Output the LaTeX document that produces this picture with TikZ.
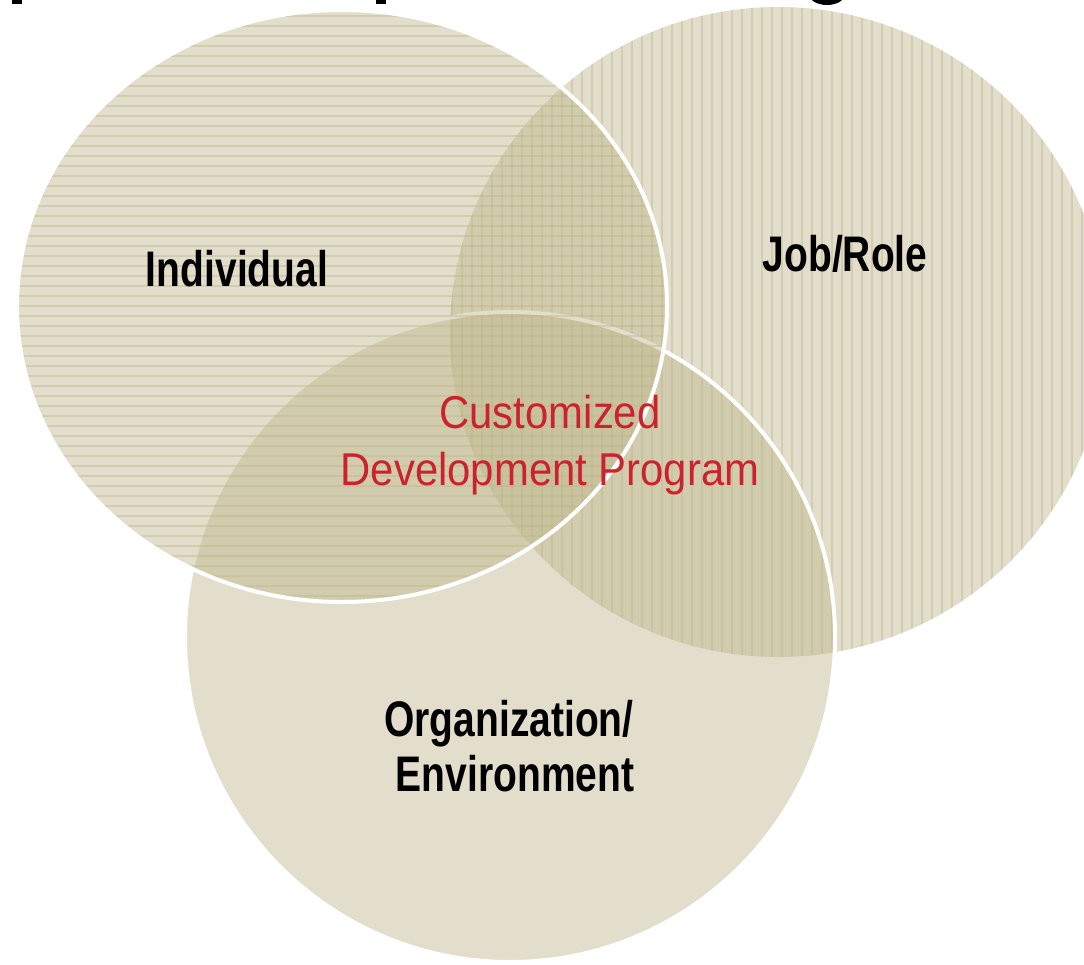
\documentclass[tikz,border=0pt]{standalone}
\usepackage{fontspec}
\setmainfont{Liberation Sans}
\usepackage{graphicx}
\definecolor{basefill}{RGB}{190,182,140}
\definecolor{linec}{RGB}{188,180,132}
\definecolor{redtxt}{RGB}{204,34,45}
\tikzset{
  venn/.style={fill=basefill, fill opacity=0.45},
  rim/.style={draw=white, line width=3pt},
  hatch/.style={draw=linec, line width=0.8pt, opacity=0.4},
  blacklabel/.style={text=black, inner sep=0pt, anchor=base,
    font=\fontsize{37.5}{45}\selectfont\bfseries},
  redlabel/.style={text=redtxt, inner sep=0pt, anchor=base,
    font=\fontsize{34.5}{42}\selectfont}
}
\begin{document}
\begin{tikzpicture}[x=0.75pt,y=-0.75pt]
\useasboundingbox (0,0) rectangle (1084,964);
\clip (0,0) rectangle (1084,964);
\coordinate (job) at (778,332);
\coordinate (org) at (510,637);
\coordinate (ind) at (342,306);

% title fragments (cut off at the top edge)
\fill[black] (12,-2) rectangle (22,4);
\fill[black] (376,-2) rectangle (386,4);
\fill[black] (827,-6) ellipse [x radius=18, y radius=11];

% Job/Role circle
\fill[venn] (job) ellipse [x radius=328, y radius=325];
\begin{scope}
  \clip (job) ellipse [x radius=328, y radius=325];
  \foreach \x in {452,462,...,1110} \draw[hatch] (\x,0) -- (\x,964);
\end{scope}

% Organization circle
\fill[venn] (org) circle [radius=325];
\draw[rim] (org) circle [radius=325];

% Individual ellipse
\fill[venn] (ind) ellipse [x radius=325, y radius=296];
\begin{scope}
  \clip (ind) ellipse [x radius=325, y radius=296];
  \foreach \y in {16,26,...,606} \draw[hatch] (0,\y) -- (700,\y);
\end{scope}
\draw[rim] (ind) ellipse [x radius=325, y radius=296];

% labels
\node[blacklabel] (lind) at (237,286) {\scalebox{0.78}[1]{Individual}};
\node[blacklabel] (ljob) at (845,271) {\scalebox{0.78}[1]{Job/Role}};
\node[blacklabel] (lorg1) at (509,736) {\scalebox{0.78}[1]{Organization/}};
\node[blacklabel] (lorg2) at (515,791) {\scalebox{0.78}[1]{Environment}};
\node[redlabel] (lc1) at (550,428) {\scalebox{0.91}[1]{Customized}};
\node[redlabel] (lc2) at (550,485) {\scalebox{0.91}[1]{Development Program}};
\end{tikzpicture}
\end{document}
